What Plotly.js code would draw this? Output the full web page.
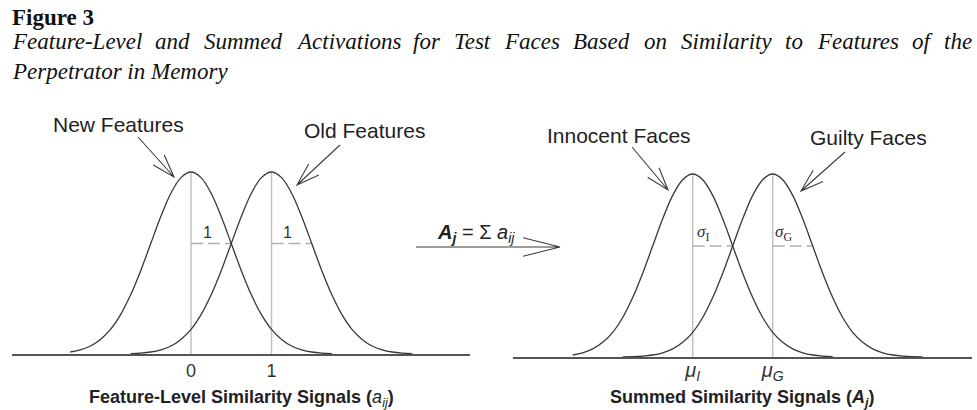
<!DOCTYPE html>
<html>
<head>
<meta charset="utf-8">
<script src="https://cdn.plot.ly/plotly-3.0.1.min.js"></script>
<style>
    html, body { margin: 0; padding: 0; background: #fff; }
    #fig { width: 977px; height: 410px; }
</style>
</head>
<body>
<div id="fig"></div>
<script>
// ---- chart data ----
var figLabel = 'Figure 3';
var captionLine1 = 'Feature-Level and Summed Activations for Test Faces Based on Similarity to Features of the';
var captionLine2 = 'Perpetrator in Memory';

var featureMeans = [0, 1];
var featureNames = ['New Features', 'Old Features'];
var featureTicks = ['0', '1'];
var featureSdText = ['1', '1'];
var featureAxisTitle = '<b>Feature-Level Similarity Signals (</b><i>a</i><sub><i>ij</i></sub><b>)</b>';

var summedMeans = [0, 1];
var summedNames = ['Innocent Faces', 'Guilty Faces'];
var summedTicks = ['<i>μ</i><sub><i>I</i></sub>', '<i>μ</i><sub><i>G</i></sub>'];
var summedSdText = ['<i>σ</i><sub>I</sub>', '<i>σ</i><sub>G</sub>'];
var summedAxisTitle = '<b>Summed Similarity Signals (<i>A</i></b><sub><b><i>j</i></b></sub><b>)</b>';

var sdWidth = 0.5;   // half the distance between the two means

var newX = [-1.5, -1.375, -1.25, -1.125, -1, -0.875, -0.75, -0.625, -0.5, -0.375, -0.25, -0.125, 0,
    0.125, 0.25, 0.375, 0.5, 0.625, 0.75, 0.875, 1, 1.125, 1.25, 1.375, 1.5, 1.625, 1.75];
var newY = [0.011, 0.023, 0.044, 0.080, 0.135, 0.216, 0.325, 0.458, 0.607, 0.755, 0.883, 0.969, 1,
    0.969, 0.883, 0.755, 0.607, 0.458, 0.325, 0.216, 0.135, 0.080, 0.044, 0.023, 0.011, 0.005, 0.002];
var oldX = [-0.75, -0.625, -0.5, -0.375, -0.25, -0.125, 0, 0.125, 0.25, 0.375, 0.5, 0.625, 0.75, 0.875, 1,
    1.125, 1.25, 1.375, 1.5, 1.625, 1.75, 1.875, 2, 2.125, 2.25, 2.375, 2.5, 2.625, 2.75];
var oldY = [0.002, 0.005, 0.011, 0.023, 0.044, 0.080, 0.135, 0.216, 0.325, 0.458, 0.607, 0.755, 0.883, 0.969, 1,
    0.969, 0.883, 0.755, 0.607, 0.458, 0.325, 0.216, 0.135, 0.080, 0.044, 0.023, 0.011, 0.005, 0.002];

var innocentX = [-1.5, -1.375, -1.25, -1.125, -1, -0.875, -0.75, -0.625, -0.5, -0.375, -0.25, -0.125, 0,
    0.125, 0.25, 0.375, 0.5, 0.625, 0.75, 0.875, 1, 1.125, 1.25, 1.375, 1.5, 1.625, 1.75];
var innocentY = [0.011, 0.023, 0.044, 0.080, 0.135, 0.216, 0.325, 0.458, 0.607, 0.755, 0.883, 0.969, 1,
    0.969, 0.883, 0.755, 0.607, 0.458, 0.325, 0.216, 0.135, 0.080, 0.044, 0.023, 0.011, 0.005, 0.002];
var guiltyX = [-0.875, -0.75, -0.625, -0.5, -0.375, -0.25, -0.125, 0, 0.125, 0.25, 0.375, 0.5, 0.625, 0.75, 0.875, 1,
    1.125, 1.25, 1.375, 1.5, 1.625, 1.75, 1.875, 2, 2.125, 2.25, 2.375, 2.5, 2.625, 2.75, 2.875];
var guiltyY = [0.001, 0.002, 0.005, 0.011, 0.023, 0.044, 0.080, 0.135, 0.216, 0.325, 0.458, 0.607, 0.755, 0.883, 0.969, 1,
    0.969, 0.883, 0.755, 0.607, 0.458, 0.325, 0.216, 0.135, 0.080, 0.044, 0.023, 0.011, 0.005, 0.002, 0.001];

// ---- page geometry (pixels) ----
var W = 977, H = 410;
var SANS = 'Liberation Sans, Arial, sans-serif';
var SERIF = 'Liberation Serif, Times New Roman, serif';
var curveColor = '#383838';
var guideColor = '#c2c2c2';

function px(x) { return x / W; }
function py(y) { return 1 - y / H; }

function valueAt(xs, ys, x) {
    for (var i = 0; i < xs.length; i++) {
        if (Math.abs(xs[i] - x) < 1e-9) return ys[i];
    }
    return 0;
}

function curveTrace(xs, ys, xa, ya) {
    return {x: xs, y: ys, xaxis: xa, yaxis: ya, mode: 'lines', type: 'scatter', hoverinfo: 'skip',
        line: {color: curveColor, width: 1.3, shape: 'spline'}};
}

function guideTraces(means, curves, xa, ya) {
    var out = [];
    for (var i = 0; i < means.length; i++) {
        var c = curves[i];
        var peak = Math.max.apply(null, c[1]);
        var atSd = valueAt(c[0], c[1], means[i] + sdWidth);
        out.push({x: [means[i], means[i]], y: [0, peak], xaxis: xa, yaxis: ya, mode: 'lines',
            hoverinfo: 'skip', line: {color: guideColor, width: 1.5}});
        out.push({x: [means[i], means[i] + sdWidth], y: [atSd, atSd], xaxis: xa, yaxis: ya, mode: 'lines',
            hoverinfo: 'skip', line: {color: '#b0b0b0', width: 1.5, dash: '12px,5px'}});
    }
    return out;
}

// open arrow: shaft plus two barbs at the tip
function arrowShape(tail, tip, barbLen, barbDeg) {
    var ang = Math.atan2(tail[1] - tip[1], tail[0] - tip[0]);
    var a = barbDeg * Math.PI / 180;
    var b1 = [tip[0] + barbLen * Math.cos(ang + a), tip[1] + barbLen * Math.sin(ang + a)];
    var b2 = [tip[0] + barbLen * Math.cos(ang - a), tip[1] + barbLen * Math.sin(ang - a)];
    function p(pt) { return px(pt[0]).toFixed(5) + ',' + py(pt[1]).toFixed(5); }
    return {type: 'path', xref: 'paper', yref: 'paper',
        path: 'M' + p(tail) + 'L' + p(tip) + 'M' + p(b1) + 'L' + p(tip) + 'L' + p(b2),
        line: {color: '#3c3c3c', width: 1.1}};
}

var data = [].concat(guideTraces(featureMeans, [[newX, newY], [oldX, oldY]], 'x', 'y'))
    .concat(guideTraces(summedMeans, [[innocentX, innocentY], [guiltyX, guiltyY]], 'x2', 'y2'))
    .concat([
        curveTrace(newX, newY, 'x', 'y'),
        curveTrace(oldX, oldY, 'x', 'y'),
        curveTrace(innocentX, innocentY, 'x2', 'y2'),
        curveTrace(guiltyX, guiltyY, 'x2', 'y2')
    ]);

var annotations = [];

// caption: label line + justified italic line + last line
annotations.push({xref: 'paper', yref: 'paper', x: px(11), y: py(17), xanchor: 'left', yanchor: 'middle',
    text: '<b>' + figLabel + '</b>', showarrow: false, borderpad: 0,
    font: {family: SERIF, size: 23, color: '#111'}});

var ctx = document.createElement('canvas').getContext('2d');
ctx.font = 'italic 23px "Liberation Serif"';
var words = captionLine1.split(' ');
var widths = words.map(function(w) { return ctx.measureText(w).width; });
var total = widths.reduce(function(a, b) { return a + b; }, 0);
var gap = (971 - 11 - total) / (words.length - 1);
var cx = 11;
for (var i = 0; i < words.length; i++) {
    annotations.push({xref: 'paper', yref: 'paper', x: px(cx), y: py(42), xanchor: 'left', yanchor: 'middle',
        text: '<i>' + words[i] + '</i>', showarrow: false, borderpad: 0,
        font: {family: SERIF, size: 23, color: '#111'}});
    cx += widths[i] + gap;
}
annotations.push({xref: 'paper', yref: 'paper', x: px(11), y: py(72), xanchor: 'left', yanchor: 'middle',
    text: '<i>' + captionLine2 + '</i>', showarrow: false, borderpad: 0,
    font: {family: SERIF, size: 23, color: '#111'}});

// distribution names with arrows
var nameSpots = [[118, 124], [364, 130], [619, 135], [868, 137]];
var arrowSpots = [[[138, 137], [174, 177]], [[340, 145], [297, 185]],
    [[632, 147], [668, 190]], [[845, 152], [801, 191]]];
var names = featureNames.concat(summedNames);
var shapes = [];
for (var k = 0; k < names.length; k++) {
    annotations.push({xref: 'paper', yref: 'paper', x: px(nameSpots[k][0]), y: py(nameSpots[k][1]),
        xanchor: 'center', yanchor: 'middle', text: names[k], showarrow: false,
        font: {family: SANS, size: 21, color: '#222'}});
    shapes.push(arrowShape(arrowSpots[k][0], arrowSpots[k][1], 24, 18));
}

// spread labels next to the dashed guides
for (var m = 0; m < featureMeans.length; m++) {
    annotations.push({xref: 'x', yref: 'y', x: featureMeans[m] + 0.2, y: 0.665, text: featureSdText[m],
        showarrow: false, xanchor: 'center', yanchor: 'middle', font: {family: SANS, size: 16, color: '#333'}});
    annotations.push({xref: 'x2', yref: 'y2', x: summedMeans[m] + 0.13, y: 0.675, text: summedSdText[m],
        showarrow: false, xanchor: 'center', yanchor: 'middle', font: {family: SERIF, size: 17, color: '#333'}});
}

// axis titles under the tick labels
annotations.push({xref: 'paper', yref: 'paper', x: px(241), y: py(398), xanchor: 'center', yanchor: 'middle',
    text: featureAxisTitle, showarrow: false, font: {family: SANS, size: 18, color: '#222'}});
annotations.push({xref: 'paper', yref: 'paper', x: px(742), y: py(398), xanchor: 'center', yanchor: 'middle',
    text: summedAxisTitle, showarrow: false, font: {family: SANS, size: 18, color: '#222'}});

// summation arrow between the panels
annotations.push({xref: 'paper', yref: 'paper', x: px(476), y: py(234), xanchor: 'center', yanchor: 'middle',
    text: '<b><i>A</i></b><sub><b><i>j</i></b></sub> = Σ <i>a</i><sub><i>ij</i></sub>', showarrow: false,
    font: {family: SANS, size: 20, color: '#222'}});
shapes.push(arrowShape([416, 247], [560, 247], 38, 14));

var axisBase = {
    showline: true, linecolor: '#555', linewidth: 1.5, showgrid: false, zeroline: false,
    ticks: '', tickfont: {family: SANS, size: 18, color: '#333'}, fixedrange: true
};

var layout = {
    width: W, height: H,
    margin: {l: 0, r: 0, t: 0, b: 0},
    paper_bgcolor: '#fff', plot_bgcolor: 'rgba(0,0,0,0)',
    showlegend: false,
    xaxis: Object.assign({}, axisBase, {
        domain: [px(12), px(470)], range: [-2.224, 3.466], anchor: 'y',
        tickvals: featureMeans, ticktext: featureTicks
    }),
    yaxis: {domain: [py(354), py(130)], range: [0, (354 - 130) / 182], visible: false, fixedrange: true},
    xaxis2: Object.assign({}, axisBase, {
        domain: [px(513), px(972)], range: [-2.246, 3.491], anchor: 'y2',
        tickvals: summedMeans, ticktext: summedTicks, ticklabelstandoff: -6,
        tickfont: {family: SANS, size: 20, color: '#333'}
    }),
    yaxis2: {domain: [py(357), py(130)], range: [0, (357 - 130) / 183], visible: false, fixedrange: true},
    annotations: annotations,
    shapes: shapes
};

Plotly.newPlot('fig', data, layout, {displayModeBar: false, staticPlot: true});
</script>
</body>
</html>
